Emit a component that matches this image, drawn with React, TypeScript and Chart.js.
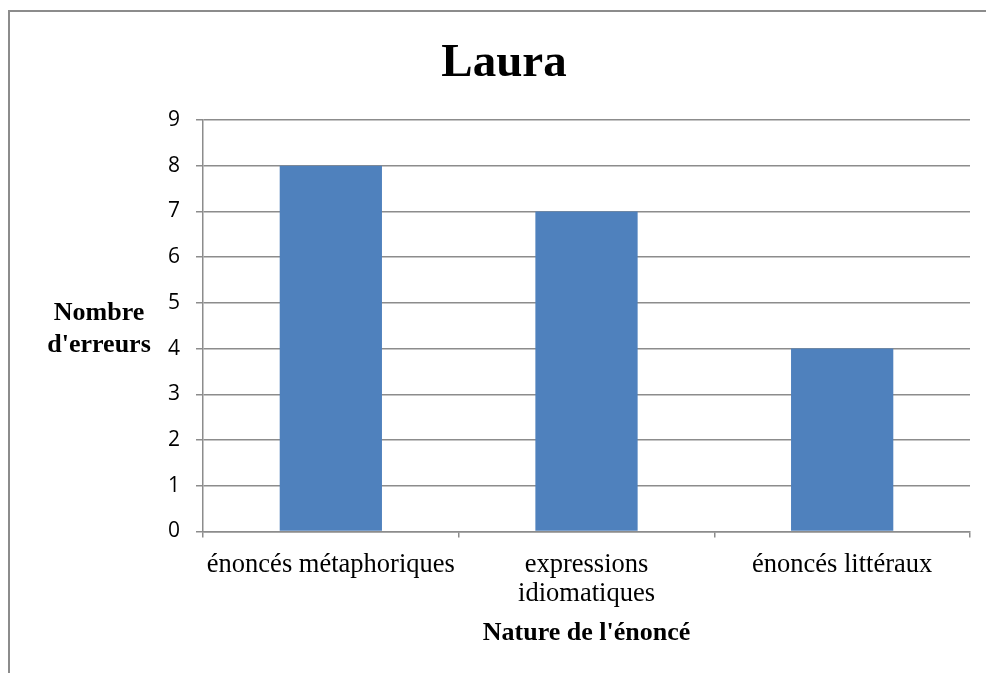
import React, { useEffect, useRef } from "react";
import { Chart, registerables } from "chart.js";

Chart.register(...registerables);

const categories: (string | string[])[] = [
  "énoncés métaphoriques",
  ["expressions", "idiomatiques"],
  "énoncés littéraux",
];
const errorCounts: number[] = [8, 7, 4];
const chartTitle = "Laura";
const yTitleLines: string[] = ["Nombre", "d'erreurs"];
const xTitle = "Nature de l'énoncé";

const GRID = "#8c8c8c";

const decorPlugin = {
  id: "decor",
  beforeDraw(chart: any) {
    const ctx = chart.ctx;
    ctx.save();
    ctx.fillStyle = "#ffffff";
    ctx.fillRect(0, 0, chart.width, chart.height);
    ctx.strokeStyle = GRID;
    ctx.lineWidth = 2;
    ctx.beginPath();
    ctx.moveTo(9, chart.height + 5);
    ctx.lineTo(9, 11);
    ctx.lineTo(chart.width + 5, 11);
    ctx.stroke();
    ctx.restore();
  },
  afterDraw(chart: any) {
    const ctx = chart.ctx;
    const area = chart.chartArea;
    ctx.save();
    ctx.fillStyle = "#000";
    ctx.textBaseline = "alphabetic";
    ctx.textAlign = "center";
    ctx.font = "bold 47px 'Liberation Serif', 'Times New Roman', serif";
    ctx.fillText(chartTitle, 504, 76);
    ctx.font = "bold 26px 'Liberation Serif', 'Times New Roman', serif";
    yTitleLines.forEach((line, i) => ctx.fillText(line, 99, 319.5 + i * 32.5));
    ctx.fillText(xTitle, (area.left + area.right) / 2, 640);
    ctx.restore();
  },
};

export default function App() {
  const ref = useRef<HTMLCanvasElement | null>(null);
  useEffect(() => {
    if (!ref.current) return;
    const chart = new Chart(ref.current, {
      type: "bar",
      data: {
        labels: categories,
        datasets: [
          {
            data: errorCounts,
            backgroundColor: "#4f81bd",
            borderWidth: 0,
            categoryPercentage: 1,
            barPercentage: 0.4,
          },
        ],
      },
      options: {
        animation: false,
        responsive: false,
        devicePixelRatio: 1,
        layout: { padding: { top: 120, right: 16, left: 0, bottom: 0 } },
        plugins: {
          legend: { display: false },
          title: { display: false },
          tooltip: { enabled: false },
        },
        scales: {
          x: {
            offset: true,
            grid: {
              display: true,
              offset: true,
              drawOnChartArea: false,
              drawTicks: true,
              tickLength: 6,
              color: GRID,
              lineWidth: 1.5,
            },
            border: { display: true, color: GRID, width: 1.5 },
            ticks: {
              color: "#000",
              padding: 13,
              maxRotation: 0,
              autoSkip: false,
              font: { family: "'Liberation Serif', 'Times New Roman', serif", size: 26.5, lineHeight: 1.1 },
            },
            afterFit(scale: any) {
              scale.height = 141.5;
            },
          },
          y: {
            min: 0,
            max: 9,
            ticks: {
              stepSize: 1,
              color: "#000",
              padding: 16,
              font: { family: "'Open Sans', sans-serif", size: 21 },
            },
            grid: {
              color: GRID,
              lineWidth: 1.5,
              drawTicks: true,
              tickLength: 7,
            },
            border: { display: true, color: GRID, width: 1.5 },
            afterFit(scale: any) {
              scale.width = 203;
            },
          },
        },
      },
      plugins: [decorPlugin],
    });
    return () => chart.destroy();
  }, []);
  return (
    <div style={{ position: "absolute", left: 0, top: 0, width: 986, height: 673, background: "#fff" }}>
      <canvas ref={ref} width={986} height={673} style={{ display: "block", width: 986, height: 673 }} />
    </div>
  );
}
